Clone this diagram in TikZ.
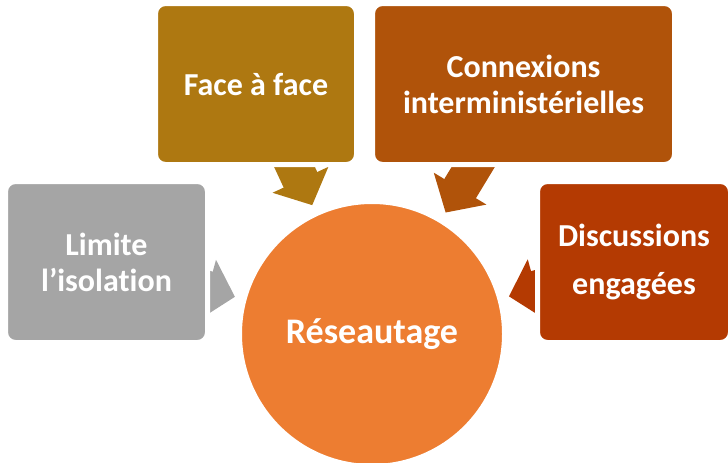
\documentclass[tikz,border=0pt]{standalone}
\usepackage{fontspec}
\setmainfont{Carlito}[Ligatures=NoCommon]
\usetikzlibrary{arrows.meta,backgrounds}
\definecolor{hubcol}{HTML}{ED7D31}
\definecolor{graycol}{HTML}{A5A5A5}
\definecolor{goldcol}{HTML}{AE7811}
\definecolor{rustcol}{HTML}{B0530A}
\definecolor{redcol}{HTML}{B43A02}
\begin{document}
\begin{tikzpicture}[x=1pt,y=-1pt,
    box/.style={rectangle,rounded corners=10pt,draw=white,line width=5pt,
      text=white,align=center,inner sep=0pt,minimum height=161pt,
      font=\bfseries\fontsize{32}{36}\selectfont},
    link/.style={line width=37pt,-{Triangle[length=28pt,width=60pt]},shorten >=7pt}]
  \useasboundingbox (0,0) rectangle (728,463);
  \node[circle,fill=hubcol,draw=white,line width=5pt,minimum size=265pt,
    text=white,font=\bfseries\fontsize{36}{44}\selectfont] (hub) at (372,334) {Réseautage};
  \node[box,fill=graycol,minimum width=202pt] (isol) at (106.5,262) {Limite\\l’isolation};
  \node[box,fill=goldcol,minimum width=201pt] (face) at (256,84) {Face à face};
  \node[box,fill=rustcol,minimum width=302pt] (conn) at (523.5,84) {Connexions\\interministérielles};
  \node[box,fill=redcol,minimum width=193pt] (disc) at (634,262) {Discussions\\[12pt]engagées};
  \begin{scope}[on background layer]
    \draw[link,graycol] (isol.center) to (hub);
    \draw[link,goldcol] (face.center) to (hub);
    \draw[link,rustcol] (conn.center) to (hub);
    \draw[link,redcol] (disc.center) to (hub);
  \end{scope}
\end{tikzpicture}
\end{document}
